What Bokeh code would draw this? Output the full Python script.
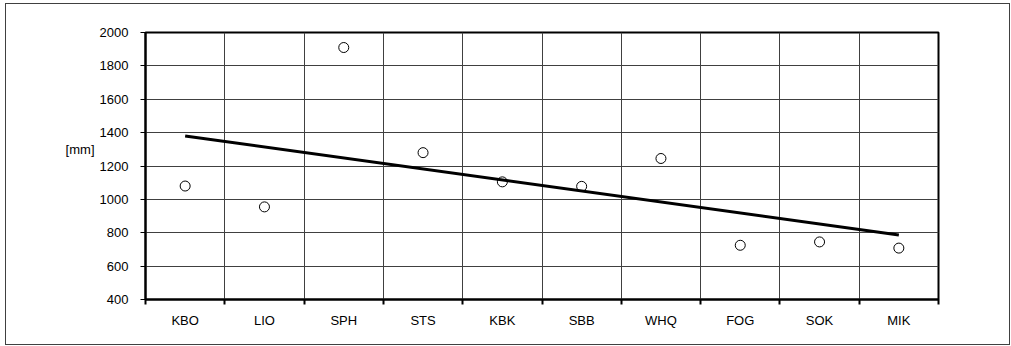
from bokeh.plotting import figure
from bokeh.models import FixedTicker, Range1d, LinearAxis, CustomJSTickFormatter
from bokeh.embed import file_html
from bokeh.resources import INLINE
import numpy as np

# ---- data ----
stations = ["KBO", "LIO", "SPH", "STS", "KBK", "SBB", "WHQ", "FOG", "SOK", "MIK"]
precip_mm = [1080, 955, 1910, 1280, 1105, 1078, 1245, 725, 745, 708]
trend_mm = [1380, 787]          # linear trend at first and last station
y_ticks = [400, 600, 800, 1000, 1200, 1400, 1600, 1800, 2000]
y_label = "[mm]"
y_label_at = 1300

FONT = "Liberation Sans"

n = len(stations)
x_pos = np.arange(n) + 0.5           # category centres
x_bounds = list(range(n + 1))        # category boundaries

p = figure(
    output_backend="svg", toolbar_location=None,
    frame_width=793, frame_height=267,
    min_border_left=139, min_border_right=71,
    min_border_top=28, min_border_bottom=45,
    x_range=Range1d(0, n), y_range=Range1d(y_ticks[0], y_ticks[-1]),
)
p.styles = {"border": "1px solid #404040", "margin": "3px 0px 0px 5px"}
p.background_fill_color = "white"
p.border_fill_color = "white"
p.outline_line_color = "black"
p.outline_line_width = 2

# x axis: labels at centres, tick marks at boundaries
xt = FixedTicker(ticks=list(x_pos), minor_ticks=x_bounds)
p.xaxis.ticker = xt
p.xaxis.formatter = CustomJSTickFormatter(args=dict(names=stations),
                                          code="return names[Math.floor(tick)];")
p.xaxis.major_tick_out = 0
p.xaxis.major_tick_in = 0
p.xaxis.minor_tick_out = 5
p.xaxis.minor_tick_in = 0
p.xaxis.minor_tick_line_color = "black"
p.xaxis.minor_tick_line_width = 2
p.xaxis.major_label_standoff = 8
p.xgrid.ticker = xt
p.xgrid.grid_line_color = None
p.xgrid.minor_grid_line_color = "#404040"
p.xgrid.minor_grid_line_width = 1

# y axis
yt = FixedTicker(ticks=y_ticks, minor_ticks=[])
p.yaxis.ticker = yt
p.yaxis.major_tick_out = 5
p.yaxis.major_tick_in = 0
p.yaxis.minor_tick_out = 0
p.yaxis.minor_tick_in = 0
p.yaxis.major_tick_line_width = 1
p.yaxis.major_label_standoff = 12
p.ygrid.ticker = yt
p.ygrid.grid_line_color = "#404040"
p.ygrid.grid_line_width = 1

for ax in (p.xaxis, p.yaxis):
    ax.axis_line_color = "black"
    ax.axis_line_width = 2
    ax.major_tick_line_color = "black"
    ax.major_label_text_font = FONT
    ax.major_label_text_font_size = "13px"
    ax.major_label_text_color = "black"

# unit label, horizontal, beside the y axis
unit_axis = LinearAxis(ticker=FixedTicker(ticks=[y_label_at], minor_ticks=[]),
                       formatter=CustomJSTickFormatter(args=dict(t=y_label),
                                                       code="return t;"),
                       axis_line_color=None, major_tick_line_color=None,
                       minor_tick_line_color=None, major_tick_out=0,
                       major_tick_in=0, major_label_standoff=2,
                       major_label_text_font=FONT,
                       major_label_text_font_size="13px",
                       major_label_text_color="black")
p.add_layout(unit_axis, "left")

p.scatter(x_pos, precip_mm, marker="circle", size=10,
          fill_color=None, line_color="black", line_width=1)
p.line([x_pos[0], x_pos[-1]], trend_mm, line_color="black", line_width=3)

open("out.html", "w").write(file_html(p, INLINE))
